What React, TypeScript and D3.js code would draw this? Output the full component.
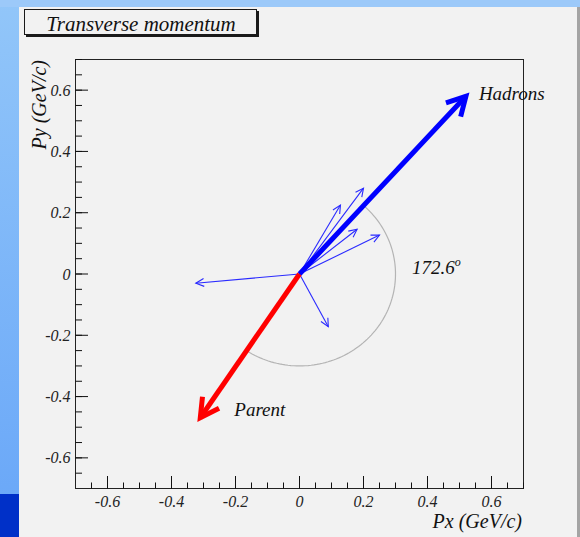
import React from "react";
import * as d3 from "d3";

const W = 580;
const H = 537;

// Tick values
const majorTicks = [-0.6, -0.4, -0.2, 0, 0.2, 0.4, 0.6];
const minorTicks = d3.range(-0.65, 0.7001, 0.05);
const tickLabels = ["-0.6", "-0.4", "-0.2", "0", "0.2", "0.4", "0.6"];

// Thin hadron arrows (end points, GeV/c)
const hadronPx = [-0.324, 0.09, 0.25, 0.18, 0.2, 0.128];
const hadronPy = [-0.03, -0.172, 0.127, 0.146, 0.28, 0.225];

// Summed vectors
const sumNames = ["Hadrons", "Parent"];
const sumPx = [0.52, -0.31];
const sumPy = [0.58, -0.469];
const sumColors = ["#0000ff", "#ff0000"];

const angleLabel = "172.6";
const arcRadius = 0.3;
const openingAngle = 172.6;

const serif = "'Liberation Serif', 'Times New Roman', serif";

export default function App() {
  const x = d3.scaleLinear().domain([-0.7, 0.7]).range([75.5, 523.5]);
  const y = d3.scaleLinear().domain([-0.7, 0.7]).range([488.5, 59.5]);
  const x0 = x(0), y0 = y(0);

  const arrowPath = (px: number, py: number, len: number, spread: number) => {
    const tx = x(px), ty = y(py);
    const a = Math.atan2(ty - y0, tx - x0);
    const b1 = a + Math.PI - spread;
    const b2 = a + Math.PI + spread;
    const shaft = `M${x0},${y0}L${tx},${ty}`;
    const head = `M${tx + len * Math.cos(b1)},${ty + len * Math.sin(b1)}L${tx},${ty}L${tx + len * Math.cos(b2)},${ty + len * Math.sin(b2)}`;
    return { shaft, head, tx, ty };
  };

  // arc from hadron direction clockwise by opening angle
  const aStart = Math.atan2(sumPy[0], sumPx[0]);
  const aEnd = aStart - (openingAngle * Math.PI) / 180;
  const arcPts = d3.range(0, 101).map((i) => {
    const t = aStart + ((aEnd - aStart) * i) / 100;
    return [x(arcRadius * Math.cos(t)), y(arcRadius * Math.sin(t))] as [number, number];
  });
  const arcLine = d3.line()(arcPts) || "";

  return (
    <div style={{ position: "fixed", left: 0, top: 0, width: W, height: H }}>
      <svg width={W} height={H} style={{ display: "block" }}>
        <defs>
          <linearGradient id="lg" x1="0" y1="0" x2="0" y2="1">
            <stop offset="0" stopColor="#92c6f9" />
            <stop offset="1" stopColor="#68a6f8" />
          </linearGradient>
        </defs>
        <rect x={0} y={0} width={W} height={H} fill="url(#lg)" />
        <rect x={0} y={0} width={W} height={7} fill="#9cc9f9" />
        <rect x={0} y={494} width={19} height={H - 494} fill="#0030c8" />
        <rect x={19} y={7} width={558} height={H - 7} fill="#f2f2f2" />
        <rect x={577} y={7} width={3} height={H - 7} fill="#a4a4a4" />

        {/* Title box */}
        <rect x={26} y={11} width={233} height={26} fill="#1a1a1a" />
        <rect x={24.5} y={9.5} width={232} height={25} fill="#f2f2f2" stroke="#1a1a1a" strokeWidth={1} />
        <text x={141} y={30.5} textAnchor="middle" fontFamily={serif} fontStyle="italic" fontSize={21} fill="#111">
          Transverse momentum
        </text>

        {/* Frame */}
        <rect x={75.5} y={59.5} width={448} height={429} fill="none" stroke="#222" strokeWidth={1} />

        {/* X ticks */}
        {minorTicks.map((v, i) => (
          <line key={"xm" + i} x1={x(v)} x2={x(v)} y1={488.5} y2={482.5} stroke="#111" />
        ))}
        {majorTicks.map((v, i) => (
          <line key={"xM" + i} x1={x(v)} x2={x(v)} y1={488.5} y2={476} stroke="#111" />
        ))}
        {majorTicks.map((v, i) => (
          <text key={"xl" + i} x={x(v)} y={506.5} textAnchor="middle" fontFamily={serif} fontStyle="italic" fontSize={16} fill="#222">
            {tickLabels[i]}
          </text>
        ))}
        {/* Y ticks */}
        {minorTicks.map((v, i) => (
          <line key={"ym" + i} x1={75.5} x2={82} y1={y(v)} y2={y(v)} stroke="#111" />
        ))}
        {majorTicks.map((v, i) => (
          <line key={"yM" + i} x1={75.5} x2={88} y1={y(v)} y2={y(v)} stroke="#111" />
        ))}
        {majorTicks.map((v, i) => (
          <text key={"yl" + i} x={70.5} y={y(v) + 5.5} textAnchor="end" fontFamily={serif} fontStyle="italic" fontSize={16} fill="#222">
            {tickLabels[i]}
          </text>
        ))}

        <text x={522} y={528} textAnchor="end" fontFamily={serif} fontStyle="italic" fontSize={20} fill="#111">
          Px (GeV/c)
        </text>
        <text transform="translate(46,60) rotate(-90)" textAnchor="end" fontFamily={serif} fontStyle="italic" fontSize={20} fill="#111">
          Py (GeV/c)
        </text>

        {/* Arc */}
        <path d={arcLine} fill="none" stroke="#b4b4b4" strokeWidth={1.2} />

        {/* Thin arrows */}
        {hadronPx.map((px, i) => {
          const a = arrowPath(px, hadronPy[i], 9, 0.45);
          return (
            <g key={"h" + i} stroke="#2a2aff" strokeWidth={1.1} fill="none">
              <path d={a.shaft} />
              <path d={a.head} />
            </g>
          );
        })}

        {/* Thick arrows */}
        {sumPx.map((px, i) => {
          const a = arrowPath(px, sumPy[i], 21, 0.5);
          return (
            <g key={"s" + i} stroke={sumColors[i]} strokeWidth={5} fill="none" strokeLinejoin="miter">
              <path d={a.shaft} />
              <path d={a.head} />
            </g>
          );
        })}

        <text x={x(sumPx[0]) + 13} y={y(sumPy[0]) + 4} fontFamily={serif} fontStyle="italic" fontSize={19} fill="#111">
          {sumNames[0]}
        </text>
        <text x={x(sumPx[1]) + 34} y={y(sumPy[1]) - 2} fontFamily={serif} fontStyle="italic" fontSize={19} fill="#111">
          {sumNames[1]}
        </text>
        <text x={412} y={274} fontFamily={serif} fontStyle="italic" fontSize={19} fill="#111">
          {angleLabel}
          <tspan dy={-8} fontSize={12}>o</tspan>
        </text>
      </svg>
    </div>
  );
}
